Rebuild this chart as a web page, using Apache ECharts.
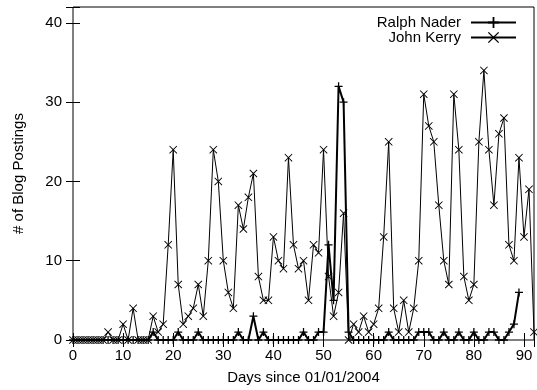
<!DOCTYPE html>
<html>
<head>
<meta charset="utf-8">
<script src="https://cdn.jsdelivr.net/npm/echarts@6/dist/echarts.min.js"></script>
<style>
html,body{margin:0;padding:0;background:#fff;}
#chart{width:537px;height:390px;}
</style>
</head>
<body>
<div id="chart"></div>
<script>
// Days since 01/01/2004
var naderDays = [];
var kerryDays = [];
var naderValues = [0,0,0,0,0,0,0,0,0,0, 0,0,0,0,0,0,1,0,0,0, 0,1,0,0,0,1,0,0,0,0, 0,0,0,1,0,0,3,0,1,0, 0,0,0,0,0,0,1,0,0,1, 1,12,5,32,30,1,0,0,0,0, 0,0,0,1,0,0,0,0,0,1, 1,1,0,0,1,0,0,1,0,0, 1,0,0,1,1,0,0,1,2,6];
var kerryValues = [0,0,0,0,0,0,0,1,0,0, 2,0,4,0,0,0,3,1,2,12, 24,7,2,3,4,7,3,10,24,20, 10,6,4,17,14,18,21,8,5,5, 13,10,9,23,12,9,10,5,12,11, 24,8,3,6,16,0,2,1,3,1, 2,4,13,25,4,1,5,1,4,10, 31,27,25,17,10,7,31,24,8,5, 7,25,34,24,17,26,28,12,10,23, 13,19,1];
var xTicks = [0,10,20,30,40,50,60,70,80,90];
var yTicks = [0,10,20,30,40];
var seriesNames = ['Ralph Nader','John Kerry'];
for (var i = 0; i < naderValues.length; i++) naderDays.push(i);
for (var j = 0; j < kerryValues.length; j++) kerryDays.push(j);

var FONT = 'Liberation Sans, Arial, Helvetica, sans-serif';
var plusPath = 'path://M4.2,0H5.8V4.2H10V5.8H5.8V10H4.2V5.8H0V4.2H4.2Z';
var crossPath = 'path://M0,0.8L0.8,0L5,4.2L9.2,0L10,0.8L5.8,5L10,9.2L9.2,10L5,5.8L0.8,10L0,9.2L4.2,5Z';

function pairs(xs, ys){ var out=[]; for (var k=0;k<ys.length;k++) out.push([xs[k], ys[k]]); return out; }

var chart = echarts.init(document.getElementById('chart'), null, {renderer:'canvas'});
var tickStyle = {color:'#000', width:1};
chart.setOption({
  animation:false,
  backgroundColor:'#fff',
  grid:{left:73, right:1, top:7, bottom:49, show:true, borderColor:'#000', borderWidth:1, backgroundColor:'transparent'},
  legend:{
    data:[{name:seriesNames[0]},{name:seriesNames[1]}],
    orient:'vertical', right:15, top:10, align:'right',
    itemWidth:45, itemHeight:14, itemGap:0,
    textStyle:{fontFamily:FONT, fontSize:15, lineHeight:15, color:'#000', padding:[0,5,0,0]},
    selectedMode:false
  },
  xAxis:[{
    type:'value', min:0, max:92, interval:10, position:'bottom',
    name:'Days since 01/01/2004', nameLocation:'middle', nameGap:30,
    nameTextStyle:{fontFamily:FONT, fontSize:15, color:'#000'},
    axisLine:{show:false},
    axisTick:{show:true, inside:true, length:7, lineStyle:tickStyle},
    axisLabel:{margin:8, fontFamily:FONT, fontSize:15, color:'#000', formatter:function(v){return xTicks.indexOf(v)>=0? String(v):'';}},
    splitLine:{show:false}
  },{
    type:'value', min:0, max:92, interval:10, position:'top',
    axisLine:{show:false},
    axisTick:{show:true, inside:true, length:7, lineStyle:tickStyle},
    axisLabel:{show:false}, splitLine:{show:false}
  }],
  yAxis:[{
    type:'value', min:0, max:42, interval:10, position:'left',
    name:'# of Blog Postings', nameLocation:'middle', nameGap:47,
    nameTextStyle:{fontFamily:FONT, fontSize:15, color:'#000'},
    axisLine:{show:false},
    axisTick:{show:true, inside:true, length:7, lineStyle:tickStyle},
    axisLabel:{margin:11, fontFamily:FONT, fontSize:15, color:'#000', formatter:function(v){return yTicks.indexOf(v)>=0? String(v):'';}},
    splitLine:{show:false}
  },{
    type:'value', min:0, max:42, interval:10, position:'right',
    axisLine:{show:false},
    axisTick:{show:true, inside:true, length:7, lineStyle:tickStyle},
    axisLabel:{show:false}, splitLine:{show:false}
  }],
  series:[{
    name:seriesNames[0], type:'line', xAxisIndex:0, yAxisIndex:0,
    data:pairs(naderDays, naderValues),
    symbol:plusPath, symbolSize:8, showAllSymbol:true,
    lineStyle:{color:'#000', width:2}, itemStyle:{color:'#000'},
    z:2
  },{
    name:seriesNames[1], type:'line', xAxisIndex:0, yAxisIndex:0,
    data:pairs(kerryDays, kerryValues),
    symbol:crossPath, symbolSize:8, showAllSymbol:true,
    lineStyle:{color:'#000', width:1}, itemStyle:{color:'#000'},
    z:3
  }]
});
</script>
</body>
</html>
